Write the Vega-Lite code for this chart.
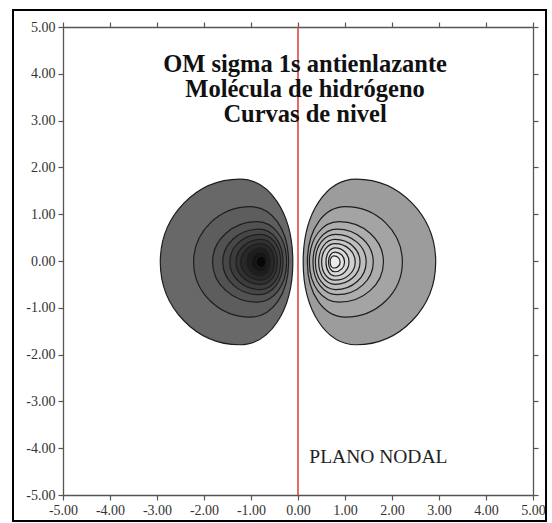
{
  "$schema": "https://vega.github.io/schema/vega-lite/v6.json",
  "width": 470,
  "height": 468,
  "autosize": "none",
  "padding": {"left": 63, "top": 27, "right": 19, "bottom": 28},
  "background": "white",
  "config": {
    "view": {"stroke": null},
    "axis": {
      "grid": false,
      "title": null,
      "domainColor": "#555555",
      "domainWidth": 1.3,
      "tickColor": "#555555",
      "tickWidth": 1.2,
      "tickSize": 5,
      "labelFont": "Liberation Serif",
      "labelFontSize": 14,
      "labelColor": "#333333",
      "labelFlush": false,
      "labelOverlap": false
    }
  },
  "data": {
    "values": [
      {"lobulo": "izquierdo", "anillo": 1, "x": -1.52, "y": -0.02, "r": 1.77, "nivel": -0.1},
      {"lobulo": "izquierdo", "anillo": 2, "x": -1.21, "y": -0.02, "r": 1.18, "nivel": -0.2},
      {"lobulo": "izquierdo", "anillo": 3, "x": -1.03, "y": -0.02, "r": 0.86, "nivel": -0.3},
      {"lobulo": "izquierdo", "anillo": 4, "x": -0.96, "y": -0.02, "r": 0.70, "nivel": -0.4},
      {"lobulo": "izquierdo", "anillo": 5, "x": -0.91, "y": -0.02, "r": 0.59, "nivel": -0.5},
      {"lobulo": "izquierdo", "anillo": 6, "x": -0.88, "y": -0.02, "r": 0.48, "nivel": -0.6},
      {"lobulo": "izquierdo", "anillo": 7, "x": -0.86, "y": -0.02, "r": 0.39, "nivel": -0.7},
      {"lobulo": "izquierdo", "anillo": 8, "x": -0.84, "y": -0.02, "r": 0.30, "nivel": -0.8},
      {"lobulo": "izquierdo", "anillo": 9, "x": -0.82, "y": -0.02, "r": 0.21, "nivel": -0.9},
      {"lobulo": "izquierdo", "anillo": 10, "x": -0.79, "y": -0.02, "r": 0.13, "nivel": -1.0},
      {"lobulo": "derecho", "anillo": 1, "x": 1.52, "y": -0.02, "r": 1.77, "nivel": 0.1},
      {"lobulo": "derecho", "anillo": 2, "x": 1.21, "y": -0.02, "r": 1.18, "nivel": 0.2},
      {"lobulo": "derecho", "anillo": 3, "x": 1.03, "y": -0.02, "r": 0.86, "nivel": 0.3},
      {"lobulo": "derecho", "anillo": 4, "x": 0.96, "y": -0.02, "r": 0.70, "nivel": 0.4},
      {"lobulo": "derecho", "anillo": 5, "x": 0.91, "y": -0.02, "r": 0.59, "nivel": 0.5},
      {"lobulo": "derecho", "anillo": 6, "x": 0.88, "y": -0.02, "r": 0.48, "nivel": 0.6},
      {"lobulo": "derecho", "anillo": 7, "x": 0.86, "y": -0.02, "r": 0.39, "nivel": 0.7},
      {"lobulo": "derecho", "anillo": 8, "x": 0.84, "y": -0.02, "r": 0.30, "nivel": 0.8},
      {"lobulo": "derecho", "anillo": 9, "x": 0.82, "y": -0.02, "r": 0.21, "nivel": 0.9},
      {"lobulo": "derecho", "anillo": 10, "x": 0.79, "y": -0.02, "r": 0.13, "nivel": 1.0}
    ]
  },
  "layer": [
    {
      "transform": [{"filter": "datum.lobulo === 'izquierdo'"}],
      "mark": {"type": "point", "filled": true, "opacity": 1, "stroke": "#1e1e1e", "strokeWidth": 1.2, "angle": 180},
      "encoding": {
        "x": {"field": "x", "type": "quantitative", "scale": {"domain": [-5, 5], "nice": false, "zero": false},
          "axis": {"orient": "bottom", "values": [-5, -4, -3, -2, -1, 0, 1, 2, 3, 4, 5], "labelPadding": 3,
            "labelExpr": "(datum.value < 0 ? '-' : '') + format(abs(datum.value), '.2f')"}},
        "y": {"field": "y", "type": "quantitative", "scale": {"domain": [-5, 5], "nice": false, "zero": false},
          "axis": {"orient": "left", "values": [-5, -4, -3, -2, -1, 0, 1, 2, 3, 4, 5], "labelPadding": 3,
            "labelExpr": "(datum.value < 0 ? '-' : '') + format(abs(datum.value), '.2f')"}},
        "size": {"field": "r", "type": "quantitative", "scale": {"type": "pow", "exponent": 2, "domain": [0, 2], "range": [0, 35040]}, "legend": null},
        "shape": {"field": "anillo", "type": "nominal", "legend": null,
          "scale": {"domain": [1, 2, 3, 4, 5, 6, 7, 8, 9, 10], "range": [
            "M -0.16 -1 C 0.368 -1 0.8 -0.552 0.8 0 C 0.8 0.552 0.368 1 -0.16 1 C -0.512 1 -0.8 0.6 -0.8 0 C -0.8 -0.6 -0.512 -1 -0.16 -1 Z",
            "M -0.172 -1 C 0.396 -1 0.86 -0.552 0.86 0 C 0.86 0.552 0.396 1 -0.172 1 C -0.55 1 -0.86 0.6 -0.86 0 C -0.86 -0.6 -0.55 -1 -0.172 -1 Z",
            "M -0.184 -1 C 0.423 -1 0.92 -0.552 0.92 0 C 0.92 0.552 0.423 1 -0.184 1 C -0.589 1 -0.92 0.6 -0.92 0 C -0.92 -0.6 -0.589 -1 -0.184 -1 Z",
            "M -0.184 -1 C 0.423 -1 0.92 -0.552 0.92 0 C 0.92 0.552 0.423 1 -0.184 1 C -0.589 1 -0.92 0.6 -0.92 0 C -0.92 -0.6 -0.589 -1 -0.184 -1 Z",
            "M -0.184 -1 C 0.423 -1 0.92 -0.552 0.92 0 C 0.92 0.552 0.423 1 -0.184 1 C -0.589 1 -0.92 0.6 -0.92 0 C -0.92 -0.6 -0.589 -1 -0.184 -1 Z",
            "M -0.184 -1 C 0.423 -1 0.92 -0.552 0.92 0 C 0.92 0.552 0.423 1 -0.184 1 C -0.589 1 -0.92 0.6 -0.92 0 C -0.92 -0.6 -0.589 -1 -0.184 -1 Z",
            "M -0.184 -1 C 0.423 -1 0.92 -0.552 0.92 0 C 0.92 0.552 0.423 1 -0.184 1 C -0.589 1 -0.92 0.6 -0.92 0 C -0.92 -0.6 -0.589 -1 -0.184 -1 Z",
            "M -0.164 -1 C 0.377 -1 0.82 -0.552 0.82 0 C 0.82 0.552 0.377 1 -0.164 1 C -0.525 1 -0.82 0.6 -0.82 0 C -0.82 -0.6 -0.525 -1 -0.164 -1 Z",
            "M -0.164 -1 C 0.377 -1 0.82 -0.552 0.82 0 C 0.82 0.552 0.377 1 -0.164 1 C -0.525 1 -0.82 0.6 -0.82 0 C -0.82 -0.6 -0.525 -1 -0.164 -1 Z",
            "M -0.164 -1 C 0.377 -1 0.82 -0.552 0.82 0 C 0.82 0.552 0.377 1 -0.164 1 C -0.525 1 -0.82 0.6 -0.82 0 C -0.82 -0.6 -0.525 -1 -0.164 -1 Z"
          ]}},
        "color": {"field": "nivel", "type": "quantitative", "legend": null,
          "scale": {"domain": [-1, -0.1, 0.1, 1], "range": ["#080808", "#686868", "#9c9c9c", "#ebebeb"]}},
        "order": {"field": "anillo", "type": "quantitative"}
      }
    },
    {
      "transform": [{"filter": "datum.lobulo === 'derecho'"}],
      "mark": {"type": "point", "filled": true, "opacity": 1, "stroke": "#1e1e1e", "strokeWidth": 1.2, "angle": 0},
      "encoding": {
        "x": {"field": "x", "type": "quantitative", "scale": {"domain": [-5, 5], "nice": false, "zero": false},
          "axis": {"orient": "top", "values": [-5, -4, -3, -2, -1, 0, 1, 2, 3, 4, 5], "labels": false}},
        "y": {"field": "y", "type": "quantitative", "scale": {"domain": [-5, 5], "nice": false, "zero": false},
          "axis": {"orient": "right", "values": [-5, -4, -3, -2, -1, 0, 1, 2, 3, 4, 5], "labels": false}},
        "size": {"field": "r", "type": "quantitative", "scale": {"type": "pow", "exponent": 2, "domain": [0, 2], "range": [0, 35040]}, "legend": null},
        "shape": {"field": "anillo", "type": "nominal", "legend": null},
        "color": {"field": "nivel", "type": "quantitative", "legend": null},
        "order": {"field": "anillo", "type": "quantitative"}
      }
    },
    {
      "data": {"values": [{"plano": 0}]},
      "mark": {"type": "rule", "color": "#e2433f", "strokeWidth": 1.6},
      "encoding": {
        "x": {"field": "plano", "type": "quantitative", "scale": {"domain": [-5, 5], "nice": false, "zero": false}, "axis": null}
      }
    },
    {
      "data": {"values": [{}]},
      "mark": {"type": "text", "font": "Liberation Serif", "fontWeight": "bold", "fontSize": 24.5, "lineHeight": 25,
        "align": "center", "baseline": "alphabetic", "color": "#111111",
        "text": ["OM sigma 1s antienlazante", "Molécula de hidrógeno", "Curvas de nivel"]},
      "encoding": {
        "x": {"datum": 0.15, "type": "quantitative", "scale": {"domain": [-5, 5], "nice": false, "zero": false}, "axis": null},
        "y": {"datum": 4.03, "type": "quantitative", "scale": {"domain": [-5, 5], "nice": false, "zero": false}, "axis": null}
      }
    },
    {
      "data": {"values": [{"rotulo": "PLANO NODAL"}]},
      "mark": {"type": "text", "font": "Liberation Serif", "fontSize": 19.5, "align": "center", "baseline": "alphabetic", "color": "#222222"},
      "encoding": {
        "text": {"field": "rotulo", "type": "nominal"},
        "x": {"datum": 1.71, "type": "quantitative", "scale": {"domain": [-5, 5], "nice": false, "zero": false}, "axis": null},
        "y": {"datum": -4.32, "type": "quantitative", "scale": {"domain": [-5, 5], "nice": false, "zero": false}, "axis": null}
      }
    },
    {
      "data": {"values": [{}]},
      "mark": {"type": "rect", "filled": false, "stroke": "#000000", "strokeWidth": 2},
      "encoding": {
        "x": {"datum": -6.064, "type": "quantitative", "scale": {"domain": [-5, 5], "nice": false, "zero": false}, "axis": null},
        "x2": {"datum": 5.277},
        "y": {"datum": 5.363, "type": "quantitative", "scale": {"domain": [-5, 5], "nice": false, "zero": false}, "axis": null},
        "y2": {"datum": -5.556}
      }
    }
  ],
  "resolve": {"axis": {"x": "independent", "y": "independent"}}
}
